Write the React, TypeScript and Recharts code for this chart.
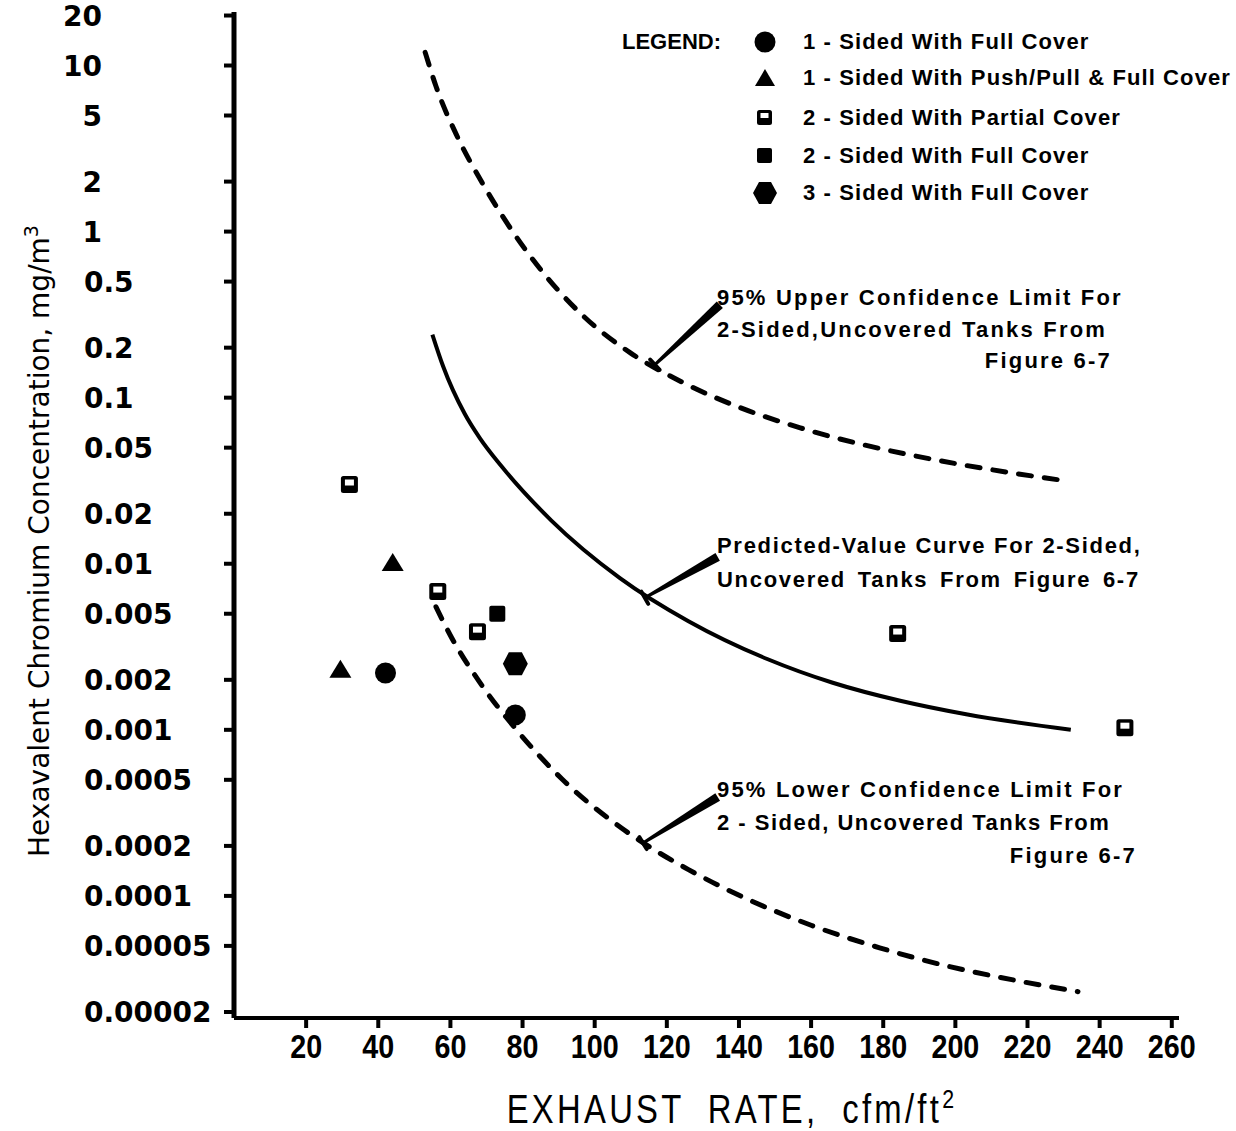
import React from 'react';
import { ComposedChart, XAxis, YAxis, Scatter, Line, ReferenceLine } from 'recharts';

// axis ticks
const xTicks = [20, 40, 60, 80, 100, 120, 140, 160, 180, 200, 220, 240, 260];
const yTicks = [20, 10, 5, 2, 1, 0.5, 0.2, 0.1, 0.05, 0.02, 0.01, 0.005, 0.002, 0.001, 0.0005, 0.0002, 0.0001, 0.00005, 0.00002];

// measured points (exhaust rate cfm/ft2, concentration mg/m3)
const oneSidedFullX = [42, 78];
const oneSidedFullY = [0.0022, 0.00123];
const pushPullX = [29.5, 44];
const pushPullY = [0.0023, 0.0101];
const twoSidedPartialX = [32, 56.5, 67.5, 184, 247];
const twoSidedPartialY = [0.03, 0.0068, 0.0039, 0.0038, 0.00103];
const twoSidedFullX = [73];
const twoSidedFullY = [0.005];
const threeSidedFullX = [78];
const threeSidedFullY = [0.0025];

// curves for 2-sided uncovered tanks (figure 6-7)
const upperX = [53, 56, 62, 69, 77, 86, 97, 110, 124, 140, 157, 196, 214, 230];
const upperY = [12, 7.5, 3.7, 1.935, 1.02, 0.556, 0.308, 0.1855, 0.1248, 0.0876, 0.0658, 0.0416, 0.0357, 0.0317];
const predX = [55, 58, 64, 68.2, 74, 88, 107, 126, 148, 166, 185, 203, 232];
const predY = [0.24, 0.154, 0.0797, 0.0569, 0.039, 0.0182, 0.0082, 0.00451, 0.00266, 0.00192, 0.00149, 0.00124, 0.001];
const lowerX = [56, 60, 68, 78, 91, 108, 126, 142, 160, 179, 198, 216, 234];
const lowerY = [0.0055, 0.0037, 0.00195, 0.00102, 0.000504, 0.000251, 0.000144, 0.0000964, 0.0000666, 0.0000487, 0.0000377, 0.0000312, 0.0000265];

// leader lines: curve end -> label end
const leaderFromX = [116.7, 113.9, 113.4];
const leaderFromY = [0.158, 0.00624, 0.000208];
const leaderToX = [134.7, 134.1, 134.1];
const leaderToY = [0.363, 0.011, 0.000394];

const legendLabels = [
  '1 - Sided With Full Cover',
  '1 - Sided With Push/Pull & Full Cover',
  '2 - Sided With Partial Cover',
  '2 - Sided With Full Cover',
  '3 - Sided With Full Cover',
];

const zip = (xs: number[], ys: number[]) => xs.map((x, i) => ({ x, y: ys[i] }));

const Dot = (p: any) => <circle cx={p.cx} cy={p.cy} r={10.5} fill="#000" />;
const Tri = (p: any) => (
  <polygon points={`${p.cx},${p.cy - 10} ${p.cx + 11},${p.cy + 8} ${p.cx - 11},${p.cy + 8}`} fill="#000" />
);
const OpenSq = (p: any) => (
  <g>
    <rect x={p.cx - 8.5} y={p.cy - 8.5} width={17} height={17} rx={2.5} fill="#000" />
    <rect x={p.cx - 4.5} y={p.cy - 5} width={9} height={6} fill="#fff" />
  </g>
);
const FullSq = (p: any) => <rect x={p.cx - 8} y={p.cy - 8} width={16} height={16} rx={2} fill="#000" />;
const Hex = (p: any) => (
  <polygon
    points={`${p.cx - 12.5},${p.cy} ${p.cx - 6.5},${p.cy - 11.5} ${p.cx + 6.5},${p.cy - 11.5} ${p.cx + 12.5},${p.cy} ${p.cx + 6.5},${p.cy + 11.5} ${p.cx - 6.5},${p.cy + 11.5}`}
    fill="#000"
  />
);

const Leader = (props: any) => {
  const { x1, y1, x2, y2 } = props;
  const dx = x2 - x1;
  const dy = y2 - y1;
  const len = Math.hypot(dx, dy) || 1;
  const nx = -dy / len;
  const ny = dx / len;
  const pts = [
    [x1 + nx * 1.5, y1 + ny * 1.5],
    [x2 + nx * 4.5, y2 + ny * 4.5],
    [x2 - nx * 4.5, y2 - ny * 4.5],
    [x1 - nx * 1.5, y1 - ny * 1.5],
  ]
    .map((p) => p.join(','))
    .join(' ');
  return (
    <g>
      <polygon points={pts} fill="#000" />
      <line x1={x1 + nx * 7} y1={y1 + ny * 7} x2={x1 - nx * 7} y2={y1 - ny * 7} stroke="#000" strokeWidth={4} strokeLinecap="round" />
    </g>
  );
};

// tick labels line up on the decimal point
const YTick = (props: any) => {
  const { y, payload } = props;
  const v: number = payload.value;
  const isInt = v >= 1;
  return (
    <text
      x={isInt ? 102 : 84}
      y={y}
      dy="0.36em"
      textAnchor={isInt ? 'end' : 'start'}
      fontFamily="'DejaVu Sans', sans-serif"
      fontWeight="bold"
      fontSize={28}
      fill="#000"
    >
      {String(v)}
    </text>
  );
};

const XTick = (props: any) => {
  const { x, y, payload } = props;
  return (
    <g transform={`translate(${x},${y}) scale(0.87,1)`}>
      <text x={0} y={0} dy="0.72em" textAnchor="middle" fontFamily="'Liberation Sans', Arial, sans-serif" fontWeight="bold" fontSize={33} fill="#000">
        {payload.value}
      </text>
    </g>
  );
};

const legendIcons = [
  <circle cx={14} cy={14} r={10.5} fill="#000" />,
  <polygon points="14,5 24,22 4,22" fill="#000" />,
  <g>
    <rect x={6} y={6} width={15} height={15} rx={2.5} fill="#000" />
    <rect x={9.5} y={9} width={8} height={5} fill="#fff" />
  </g>,
  <rect x={6} y={6} width={15} height={15} rx={2} fill="#000" />,
  <polygon points="2,14 8,3 20,3 26,14 20,25 8,25" fill="#000" />,
];
const legendRowY = [42, 78, 118, 156, 193];

const note: React.CSSProperties = {
  position: 'absolute',
  fontFamily: "'Liberation Sans', Arial, sans-serif",
  fontWeight: 'bold',
  fontSize: 22,
  letterSpacing: 2.2,
  whiteSpace: 'nowrap',
  color: '#000',
};

export default function App() {
  const lineCommon = { stroke: '#000', dot: false, isAnimationActive: false, type: 'monotone' as const };
  return (
    <div style={{ position: 'absolute', left: 0, top: 0, width: 1236, height: 1131, background: '#fff', overflow: 'hidden' }}>
      <ComposedChart width={1236} height={1131} margin={{ top: 12, right: 57, bottom: 0, left: 0 }}>
        <XAxis
          type="number"
          dataKey="x"
          domain={[0, 262]}
          allowDataOverflow
          ticks={xTicks}
          interval={0}
          height={113}
          tickSize={10}
          tickMargin={6}
          axisLine={{ stroke: '#000', strokeWidth: 4 }}
          tickLine={{ stroke: '#000', strokeWidth: 4 }}
          tick={<XTick />}
        />
        <YAxis
          type="number"
          dataKey="y"
          scale="log"
          domain={[0.0000184, 21]}
          allowDataOverflow
          ticks={yTicks}
          interval={0}
          width={234}
          tickSize={10}
          axisLine={{ stroke: '#000', strokeWidth: 5 }}
          tickLine={{ stroke: '#000', strokeWidth: 4 }}
          tick={<YTick />}
        />
        <Line data={zip(upperX, upperY)} dataKey="y" {...lineCommon} strokeWidth={5} strokeDasharray="13 13" strokeLinecap="round" />
        <Line data={zip(predX, predY)} dataKey="y" {...lineCommon} strokeWidth={4} />
        <Line data={zip(lowerX, lowerY)} dataKey="y" {...lineCommon} strokeWidth={5} strokeDasharray="13 13" strokeLinecap="round" />
        {leaderFromX.map((x, i) => (
          <ReferenceLine
            key={i}
            segment={[
              { x, y: leaderFromY[i] },
              { x: leaderToX[i], y: leaderToY[i] },
            ]}
            ifOverflow="visible"
            shape={Leader}
          />
        ))}
        <Scatter data={zip(oneSidedFullX, oneSidedFullY)} shape={Dot} isAnimationActive={false} />
        <Scatter data={zip(pushPullX, pushPullY)} shape={Tri} isAnimationActive={false} />
        <Scatter data={zip(twoSidedPartialX, twoSidedPartialY)} shape={OpenSq} isAnimationActive={false} />
        <Scatter data={zip(twoSidedFullX, twoSidedFullY)} shape={FullSq} isAnimationActive={false} />
        <Scatter data={zip(threeSidedFullX, threeSidedFullY)} shape={Hex} isAnimationActive={false} />
      </ComposedChart>

      {/* y axis title */}
      <div
        style={{
          position: 'absolute',
          left: 38,
          top: 541,
          transform: 'translate(-50%, -50%) rotate(-90deg)',
          fontFamily: "'DejaVu Sans', sans-serif",
          fontSize: 28,
          whiteSpace: 'nowrap',
          color: '#000',
        }}
      >
        Hexavalent Chromium Concentration, mg/m<sup style={{ fontSize: 19 }}>3</sup>
      </div>

      {/* x axis title */}
      <div
        style={{
          position: 'absolute',
          left: 732,
          top: 1108,
          transform: 'translate(-50%, -50%) scale(0.82, 1)',
          fontFamily: "'Liberation Sans', Arial, sans-serif",
          fontSize: 40,
          letterSpacing: 4,
          wordSpacing: 14,
          whiteSpace: 'nowrap',
          color: '#000',
        }}
      >
        EXHAUST RATE, cfm/ft<sup style={{ fontSize: 26 }}>2</sup>
      </div>

      {/* legend */}
      <div style={{ ...note, left: 622, top: 42 - 14, lineHeight: '28px', letterSpacing: 0 }}>LEGEND:</div>
      {legendLabels.map((label, i) => (
        <div key={label} style={{ position: 'absolute', left: 751, top: legendRowY[i] - 14, height: 28, display: 'flex', alignItems: 'center' }}>
          <svg width={28} height={28}>{legendIcons[i]}</svg>
          <span style={{ ...note, position: 'static', marginLeft: 24, letterSpacing: 1.1 }}>{label}</span>
        </div>
      ))}

      {/* curve notes */}
      <div style={{ ...note, left: 717, top: 282, lineHeight: '31.5px', width: 395 }}>
        <div>95% Upper Confidence Limit For</div>
        <div>2-Sided,Uncovered Tanks From</div>
        <div style={{ textAlign: 'right' }}>Figure 6-7</div>
      </div>
      <div style={{ ...note, left: 717, top: 529, lineHeight: '34px', letterSpacing: 1.7 }}>
        <div>Predicted-Value Curve For 2-Sided,</div>
        <div style={{ wordSpacing: 4 }}>Uncovered Tanks From Figure 6-7</div>
      </div>
      <div style={{ ...note, left: 717, top: 773, lineHeight: '33px', width: 420 }}>
        <div>95% Lower Confidence Limit For</div>
        <div style={{ letterSpacing: 1.5 }}>2 - Sided, Uncovered Tanks From</div>
        <div style={{ textAlign: 'right' }}>Figure 6-7</div>
      </div>
    </div>
  );
}
